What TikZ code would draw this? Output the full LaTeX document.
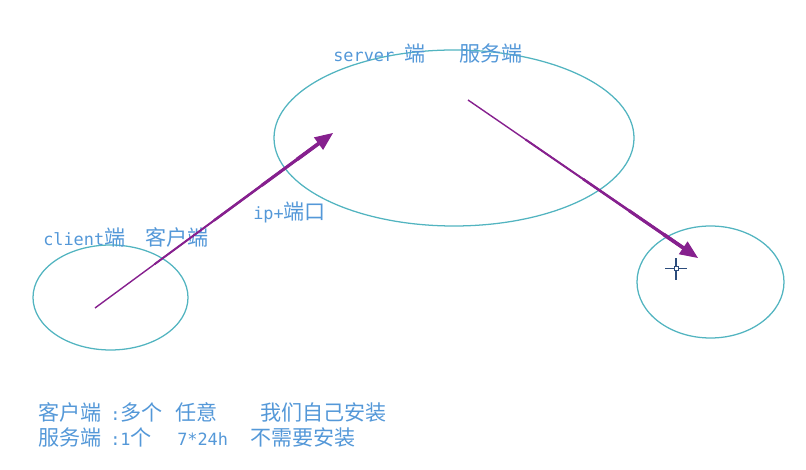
\documentclass[tikz,border=0pt]{standalone}
\usepackage{fontspec}
\newfontfamily\cjk{Noto Sans CJK SC}
\newfontfamily\mono{DejaVu Sans Mono}[Scale=0.8]
\usepackage{xcolor}
\usepackage{tikz}
\usetikzlibrary{shapes.geometric}
\usetikzlibrary{arrows.meta}
\usetikzlibrary{calc}
\definecolor{ringcol}{RGB}{82,180,192}
\definecolor{textcol}{RGB}{84,152,216}
\definecolor{arrowcol}{RGB}{134,32,142}
\definecolor{cursorcol}{RGB}{44,76,124}

\begin{document}
\begin{tikzpicture}[
  endpoint/.style={draw=ringcol, ellipse, line width=0.9pt, inner sep=0pt},
  caption/.style={anchor=west, inner sep=0pt, text=textcol, font=\cjk\fontsize{15}{18}\selectfont},
  link/.style={draw=arrowcol, line width=1pt, -{Triangle[length=0.45cm, width=0.38cm]}}
]
\useasboundingbox (0,0) rectangle (20.15,11.75);
% the three ends
\node[endpoint, minimum width=9cm, minimum height=4.4cm] (server) at (11.35,8.3) {};
\node[endpoint, minimum width=3.875cm, minimum height=2.625cm] (client) at (2.7625,4.3125) {};
\node[endpoint, minimum width=3.675cm, minimum height=2.8cm] (other) at (17.7625,4.7) {};
% labels
\node[caption] (servertext) at (8.325,10.4) {{\mono server }端\hspace{0.85cm}服务端};
\node[caption] (clienttext) at (1.075,5.825) {{\mono client}端\hspace{0.5cm}客户端};
\node[caption] (iptext) at (6.325,6.45) {{\mono ip+}端口};
% arrows, thicker towards the head
\coordinate (c1) at (2.375,4.05);
\coordinate (s1) at (8.325,8.425);
\coordinate (c2) at (11.7,9.25);
\coordinate (s2) at (17.45,5.3);
\foreach \a/\b in {c1/s1, c2/s2}{
  \draw[link] (\a) -- (\b);
  \foreach \t/\w in {0.25/1.4, 0.5/1.8, 0.7/2.2, 0.85/2.6}
    \draw[arrowcol, line width=\w pt] ($(\a)!\t!(\b)$) -- ($(\a)!0.95!(\b)$);
}
% cursor
\draw[cursorcol, line width=0.8pt] (16.63,5.03) -- (17.17,5.03) (16.9,4.76) -- (16.9,5.3);
\filldraw[cursorcol, fill=white, line width=0.6pt] (16.85,4.98) rectangle (16.95,5.08);
% notes
\node[caption] (line1) at (0.95,1.45) {\makebox[1.8cm][l]{客户端}\makebox[1.625cm][l]{{\mono :}多个}\makebox[2.125cm][l]{任意}我们自己安装};
\node[caption] (line2) at (0.95,0.8) {\makebox[1.8cm][l]{服务端}\makebox[1.675cm][l]{{\mono :1}个}\makebox[1.825cm][l]{{\mono 7*24h}}不需要安装};
\end{tikzpicture}
\end{document}
